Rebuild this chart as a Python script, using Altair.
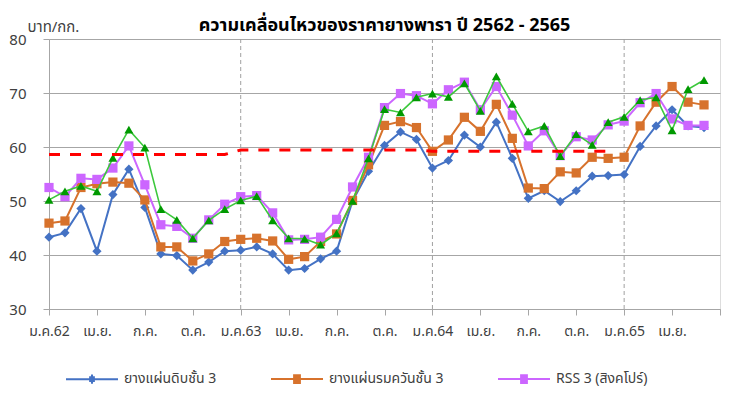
import altair as alt
import pandas as pd

# ---------------- data ----------------
series_names = ["ยางแผ่นดิบชั้น 3", "ยางแผ่นรมควันชั้น 3", "RSS 3 (สิงคโปร์)"]

# monthly values Jan 2019 (ม.ค.62) .. Jun 2022
usss3 = [43.3, 44.1, 48.6, 40.7, 51.2, 55.9, 48.8, 40.2, 39.9, 37.2, 38.7, 40.7,
         40.9, 41.5, 40.2, 37.2, 37.5, 39.3, 40.7, 50.0, 55.5, 60.3, 62.8, 61.4,
         56.1, 57.5, 62.2, 60.0, 64.6, 57.9, 50.5, 51.9, 49.9, 51.9, 54.6, 54.7,
         54.9, 60.1, 63.9, 66.9, 63.9, 63.6]
rss3 = [45.9, 46.3, 52.5, 53.2, 53.5, 53.3, 50.2, 41.5, 41.5, 38.9, 40.2, 42.5,
        42.9, 43.1, 42.6, 39.2, 39.7, 42.5, 43.9, 50.1, 56.7, 64.0, 64.7, 63.6,
        59.2, 61.3, 65.5, 62.9, 67.9, 61.6, 52.4, 52.3, 55.4, 55.2, 58.1, 57.9,
        58.1, 63.9, 68.3, 71.2, 68.3, 67.8]
rss3_sg = [52.5, 50.8, 54.2, 54.0, 56.1, 60.2, 53.0, 45.6, 45.3, 43.1, 46.5, 49.4,
           50.8, 51.0, 47.8, 42.8, 42.9, 43.3, 46.6, 52.6, 58.1, 67.3, 69.9, 69.5,
           68.0, 70.6, 72.0, 66.9, 71.2, 65.9, 60.2, 63.0, 58.4, 61.9, 61.3, 64.1,
           64.8, 68.2, 69.9, 65.2, 64.0, 64.0]
green_vals = [50.2, 51.8, 52.8, 51.8, 58.0, 63.2, 59.9, 48.5, 46.5, 43.1, 46.4, 48.5,
              50.1, 50.9, 46.4, 43.1, 43.0, 41.9, 44.0, 50.0, 57.9, 67.0, 66.4, 69.2,
              69.9, 69.3, 71.8, 66.7, 73.1, 68.0, 62.9, 63.9, 58.3, 62.4, 60.4, 64.6,
              65.6, 68.7, 69.2, 63.1, 70.7, 72.4]
avg_vals = [58.6] * 12 + [59.45] * 12 + [59.2] * 12

tick_values = [0, 3, 6, 9, 12, 15, 18, 21, 24, 27, 30, 33, 36, 39, 42]
tick_labels = ["ม.ค.62", "เม.ย.", "ก.ค.", "ต.ค.", "ม.ค.63", "เม.ย.", "ก.ค.", "ต.ค.",
               "ม.ค.64", "เม.ย.", "ก.ค.", "ต.ค.", "ม.ค.65", "เม.ย.", ""]
year_starts = [12, 24, 36]

colors = ["#4472C4", "#D7722C", "#CC66FF"]
marker_shapes = ["diamond", "square", "square"]

rows = []
for name, vals in zip(series_names, [usss3, rss3, rss3_sg]):
    for i, v in enumerate(vals):
        rows.append({"idx": i, "series": name, "value": v})
df = pd.DataFrame(rows)
df_green = pd.DataFrame({"idx": list(range(len(green_vals))), "value": green_vals})
df_avg = pd.DataFrame({"idx": list(range(len(avg_vals))), "value": avg_vals})
df_years = pd.DataFrame({"idx": year_starts})
df_leg = pd.DataFrame({"series": series_names})

FONT = "Tahoma, 'Leelawadee UI', 'Noto Sans Thai', 'Noto Sans', sans-serif"
GRID = "#a6a6a6"
TXT = "#404040"

label_js = "[" + ",".join("'" + t + "'" for t in tick_labels) + "][round(datum.value/3)]"

x_enc = alt.X("idx:Q",
              scale=alt.Scale(domain=[0, 42], nice=False, zero=False),
              axis=alt.Axis(values=tick_values, labelExpr=label_js, grid=False,
                            title=None, tickSize=6, tickColor=GRID, domainColor=GRID,
                            labelPadding=9, labelFontSize=14, labelColor=TXT,
                            labelFont=FONT, labelFlush=False))
y_enc = alt.Y("value:Q",
              scale=alt.Scale(domain=[30, 80], nice=False, zero=False),
              axis=alt.Axis(values=[30, 40, 50, 60, 70, 80], grid=True, gridColor=GRID,
                            tickSize=6, tickColor=GRID, domainColor=GRID,
                            labelPadding=17, labelFontSize=15, labelColor=TXT,
                            labelFont=FONT,
                            title="บาท/กก.", titleAngle=0, titleAlign="left",
                            titleBaseline="middle", titleX=-22, titleY=-13,
                            titleFontWeight="normal", titleFontSize=15,
                            titleColor=TXT, titleFont=FONT))

# legend symbols (stroke-only paths): a line with a solid marker drawn by strokes
sq = ("M-1,0H1"
      "M-0.15,-0.15H0.15M-0.15,-0.075H0.15M-0.15,0.075H0.15M-0.15,0.15H0.15")
dm = ("M-1,0H1"
      "M-0.11,-0.07H0.11M-0.11,0.07H0.11M-0.04,-0.14H0.04M-0.04,0.14H0.04")

legend = alt.Legend(
    title=None, orient="none", legendX=16, legendY=313, direction="horizontal",
    columns=3, columnPadding=50, padding=0, symbolSize=2704,
    symbolStrokeWidth=2, symbolOpacity=1, labelFontSize=14, labelColor=TXT,
    labelFont=FONT, labelOffset=5)

years = alt.Chart(df_years).mark_rule(color="#a0a0a0", strokeWidth=1,
                                      strokeDash=[4, 3]).encode(x=x_enc)

series_layers = []
for name, col, shp in zip(series_names, colors, marker_shapes):
    base = alt.Chart(df).transform_filter(alt.datum.series == name)
    series_layers.append(base.mark_line(strokeWidth=2, color=col).encode(x="idx:Q", y=y_enc))
    series_layers.append(base.mark_point(filled=True, size=85, opacity=1, shape=shp,
                                         color=col).encode(x="idx:Q", y="value:Q"))

# legend-only layer: its rows have no position, so nothing is drawn in the plot
legend_layer = alt.Chart(df_leg).mark_point(filled=False, strokeWidth=2, opacity=1).encode(
    x="idx:Q", y="value:Q",
    color=alt.Color("series:N", scale=alt.Scale(domain=series_names, range=colors),
                    legend=legend),
    shape=alt.Shape("series:N", scale=alt.Scale(domain=series_names, range=[dm, sq, sq]),
                    legend=legend))

g_line = alt.Chart(df_green).mark_line(color="#3CC83C", strokeWidth=1.6).encode(
    x="idx:Q", y="value:Q")
g_pts = alt.Chart(df_green).mark_point(filled=True, shape="triangle-up", size=80,
                                       color="#009900", opacity=1).encode(
    x="idx:Q", y="value:Q")

avg = alt.Chart(df_avg).mark_line(color="#FF0000", strokeWidth=3,
                                  strokeDash=[11, 10]).encode(x="idx:Q", y="value:Q")

chart = alt.layer(years, *series_layers, g_line, g_pts, avg, legend_layer).properties(
    width=671, height=270,
    padding={"left": 41, "top": 31, "right": 27, "bottom": 95},
    autosize="none",
    title=alt.TitleParams("ความเคลื่อนไหวของราคายางพารา ปี 2562 - 2565",
                          fontSize=18, fontWeight="bold", font=FONT, color="#000000",
                          anchor="middle", frame="group", baseline="alphabetic",
                          offset=9, dy=39),
).configure_view(stroke=None).configure(background="white")

chart.save("out.html", embed_options={"renderer": "svg", "actions": False})
